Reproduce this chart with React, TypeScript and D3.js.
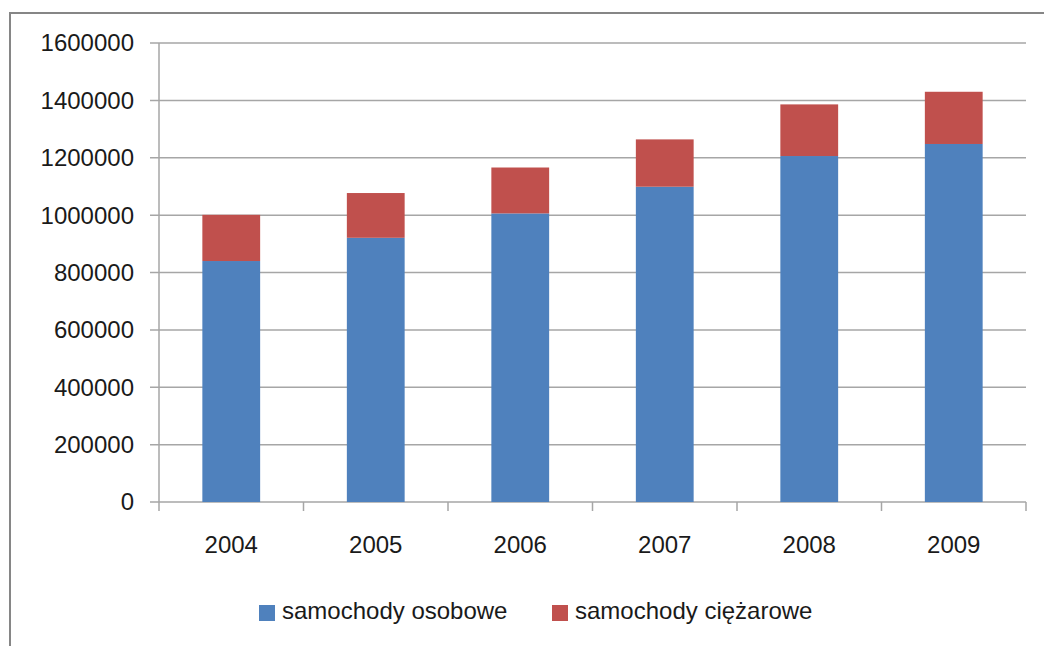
import React from "react";
import * as d3 from "d3";

const years = ["2004", "2005", "2006", "2007", "2008", "2009"];
const osobowe = [840000, 921000, 1006000, 1099000, 1206000, 1248000];
const ciezarowe = [161000, 156000, 160000, 165000, 180000, 182000];
const yTicks = [0, 200000, 400000, 600000, 800000, 1000000, 1200000, 1400000, 1600000];
const seriesNames = ["samochody osobowe", "samochody ciężarowe"];
const seriesColors = ["#4F81BD", "#C0504D"];

export default function App() {
  const W = 1044, H = 646;
  const left = 159, right = 1026, top = 43, bottom = 502;
  const x = d3.scaleBand<string>().domain(years).range([left, right]).padding(0);
  const y = d3.scaleLinear().domain([0, 1600000]).range([bottom, top]);
  const bw = x.bandwidth() * 0.4;
  const font = "'Liberation Sans', Arial, sans-serif";
  const data = years.map((yr, i) => ({ yr, a: osobowe[i], b: ciezarowe[i] }));
  const stack = d3.stack<any>().keys(["a", "b"])(data as any);

  return (
    <div style={{ position: "absolute", left: 0, top: 0, width: W, height: H, background: "#fff" }}>
      <svg width={W} height={H} style={{ display: "block" }}>
        <rect x={0} y={0} width={W} height={H} fill="#fff" />
        <path d={`M10,${H + 10} V13 H${W + 10}`} fill="none" stroke="#868686" strokeWidth={2} />
        {yTicks.map((t) => (
          <g key={t}>
            <line x1={150} x2={t === 0 ? right : right} y1={y(t)} y2={y(t)} stroke="#A6A6A6" strokeWidth={t === 0 ? 1.5 : 1.5} />
            <text x={134} y={y(t)} dy="0.35em" textAnchor="end" fontFamily={font} fontSize={24} fill="#1a1a1a">
              {t}
            </text>
          </g>
        ))}
        <line x1={left} x2={left} y1={top} y2={bottom} stroke="#A6A6A6" strokeWidth={1.5} />
        {years.map((yr) => (
          <line key={"t" + yr} x1={x(yr)!} x2={x(yr)!} y1={bottom} y2={bottom + 9} stroke="#A6A6A6" strokeWidth={1.5} />
        ))}
        <line x1={right} x2={right} y1={bottom} y2={bottom + 9} stroke="#A6A6A6" strokeWidth={1.5} />
        {stack.map((s, si) =>
          s.map((d: any, i: number) => {
            const cx = x(years[i])! + x.bandwidth() / 2;
            return (
              <rect
                key={si + "-" + i}
                x={cx - bw / 2}
                y={y(d[1])}
                width={bw}
                height={y(d[0]) - y(d[1])}
                fill={seriesColors[si]}
              />
            );
          })
        )}
        {years.map((yr) => (
          <text key={"l" + yr} x={x(yr)! + x.bandwidth() / 2} y={553} textAnchor="middle" fontFamily={font} fontSize={24} fill="#1a1a1a">
            {yr}
          </text>
        ))}
        {[259, 552].map((lx, i) => (
          <g key={"lg" + i}>
            <rect x={lx} y={605} width={16} height={16} fill={seriesColors[i]} />
            <text x={lx + 23} y={619} fontFamily={font} fontSize={24} fill="#1a1a1a">
              {seriesNames[i]}
            </text>
          </g>
        ))}
      </svg>
    </div>
  );
}
